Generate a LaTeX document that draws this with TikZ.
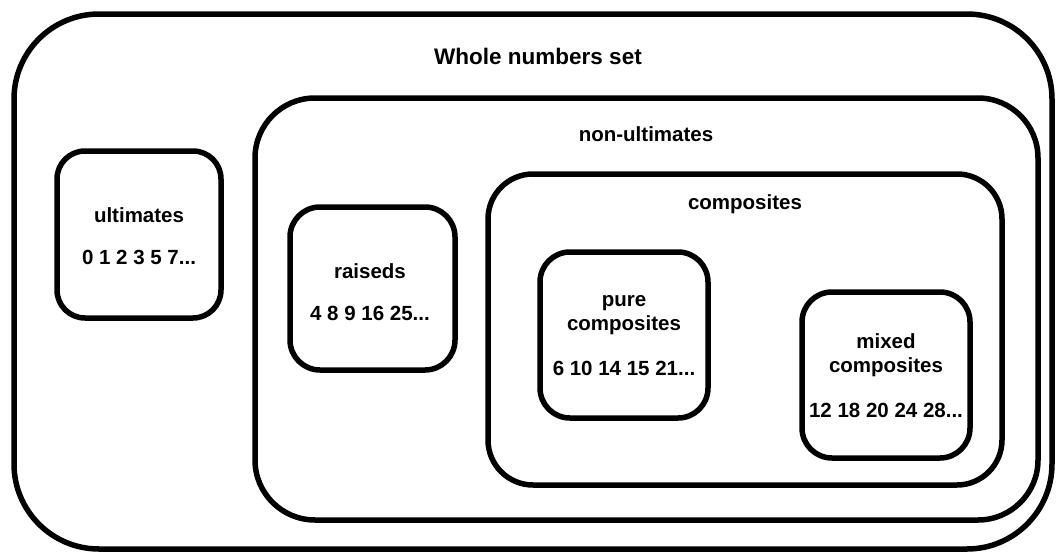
\documentclass[tikz,border=0pt]{standalone}
\usepackage{fontspec}
\setmainfont{Liberation Sans}

\begin{document}
\begin{tikzpicture}[x=1pt,y=-1pt]
	\tikzstyle{setbox}=[draw, line width=5.5pt, inner sep=0pt, rounded corners=30pt]
	\tikzstyle{setname}=[font=\bfseries\fontsize{20.5}{24}\selectfont, align=center, inner sep=0pt]
	\tikzstyle{members}=[font=\bfseries\fontsize{20.5}{24}\selectfont, inner sep=0pt]
	\useasboundingbox (0,0) rectangle (1058,554);
	% the sets, outermost first
	\node[setbox, rounded corners=85pt, minimum width=1038pt, minimum height=535pt] (whole) at (533,281.5) {};
	\node[setbox, rounded corners=60pt, minimum width=783pt, minimum height=422pt] (nonult) at (646.5,309) {};
	\node[setbox, rounded corners=28pt, minimum width=164pt, minimum height=167pt] (ult) at (139,234.5) {};
	\node[setbox, minimum width=165pt, minimum height=163pt] (raised) at (372.5,288.5) {};
	\node[setbox, rounded corners=45pt, minimum width=514pt, minimum height=311pt] (comp) at (745,329.5) {};
	\node[setbox, minimum width=168pt, minimum height=166pt] (pure) at (624,335) {};
	\node[setbox, minimum width=168pt, minimum height=166pt] (mixed) at (886,375) {};
	% names and members
	\node[setname, font=\bfseries\fontsize{22.5}{26}\selectfont] (wholename) at (538,56) {Whole numbers set};
	\node[setname] (nonultname) at (646,134) {non-ultimates};
	\node[setname] (compname) at (745,204) {composites};
	\node[setname] (ultname) at (139,215) {ultimates};
	\node[members] (ultlist) at (139,257) {0 1 2 3 5 7...};
	\node[setname] (raisedname) at (370,271) {raiseds};
	\node[members] (raisedlist) at (370,313) {4 8 9 16 25...};
	\node[setname] (purename) at (624,315) {pure\\composites};
	\node[members] (purelist) at (624,368) {6 10 14 15 21...};
	\node[setname] (mixedname) at (886,355) {mixed\\composites};
	\node[members] (mixedlist) at (886,410) {12 18 20 24 28...};
\end{tikzpicture}
\end{document}
